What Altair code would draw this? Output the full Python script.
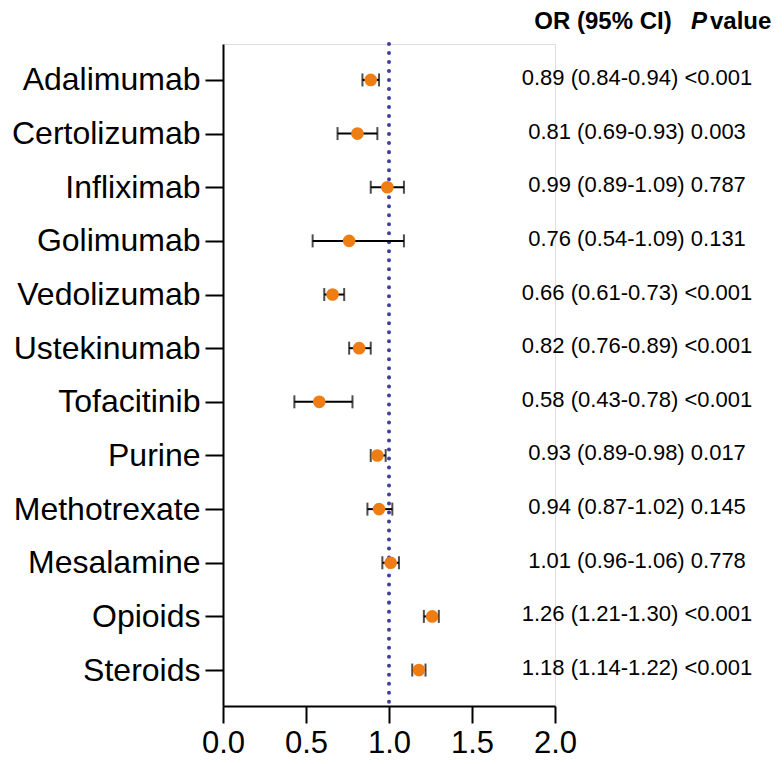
import altair as alt
import pandas as pd

names = ["Adalimumab", "Certolizumab", "Infliximab", "Golimumab", "Vedolizumab",
         "Ustekinumab", "Tofacitinib", "Purine", "Methotrexate", "Mesalamine",
         "Opioids", "Steroids"]
odds = [0.89, 0.81, 0.99, 0.76, 0.66, 0.82, 0.58, 0.93, 0.94, 1.01, 1.26, 1.18]
lower = [0.84, 0.69, 0.89, 0.54, 0.61, 0.76, 0.43, 0.89, 0.87, 0.96, 1.21, 1.14]
upper = [0.94, 0.93, 1.09, 1.09, 0.73, 0.89, 0.78, 0.98, 1.02, 1.06, 1.30, 1.22]
pvals = ["<0.001", "0.003", "0.787", "0.131", "<0.001", "<0.001", "<0.001",
         "0.017", "0.145", "0.778", "<0.001", "<0.001"]
x_ticks = [0.0, 0.5, 1.0, 1.5, 2.0]

df = pd.DataFrame({"name": names, "or": odds, "lo": lower, "hi": upper, "p": pvals})
df["label"] = [f"{o:.2f} ({l:.2f}-{h:.2f}) {p}" for o, l, h, p in zip(odds, lower, upper, pvals)]

FONT = "Liberation Sans, Arial, Helvetica, sans-serif"
ORANGE = "#EE7D14"
DOT = "#3F3F9C"

yscale = alt.Scale(type="point", domain=names, padding=0.67)
xscale = alt.Scale(domain=[0, 2], nice=False, zero=False)

y_enc = alt.Y("name:N", scale=yscale, sort=names,
              axis=alt.Axis(title=None, labelFontSize=32, labelFont=FONT, labelColor="black",
                            labelPadding=5, tickSize=18, tickWidth=2, tickColor="black",
                            domainWidth=2, domainColor="black", grid=False, labelLimit=400))
x_axis = alt.Axis(title=None, values=x_ticks, format=".1f", labelFontSize=31, labelFont=FONT,
                  labelColor="black", labelPadding=5, tickSize=17, tickWidth=2,
                  tickColor="black", domainWidth=2, domainColor="black", grid=False,
                  labelFlush=False)

base = alt.Chart(df)

ref = alt.Chart(pd.DataFrame({"v": [1.0]})).mark_rule(
    color=DOT, strokeWidth=4, strokeDash=[0.01, 9], strokeCap="round"
).encode(x=alt.X("v:Q", scale=xscale, axis=x_axis))

rule = base.mark_rule(color="black", strokeWidth=2).encode(
    x=alt.X("lo:Q", scale=xscale, axis=x_axis), x2="hi:Q", y=y_enc)
tick_lo = base.mark_tick(color="black", thickness=2, size=13, orient="vertical").encode(
    x=alt.X("lo:Q", scale=xscale), y=alt.Y("name:N", scale=yscale, sort=names))
tick_hi = base.mark_tick(color="black", thickness=2, size=13, orient="vertical").encode(
    x=alt.X("hi:Q", scale=xscale), y=alt.Y("name:N", scale=yscale, sort=names))
pts = base.mark_point(filled=True, color=ORANGE, opacity=1, size=160, shape="circle").encode(
    x=alt.X("or:Q", scale=xscale), y=alt.Y("name:N", scale=yscale, sort=names))

txt = base.mark_text(align="center", baseline="middle", fontSize=22, font=FONT,
                     color="black", dy=-2).encode(
    x=alt.value(414), y=alt.Y("name:N", scale=yscale, sort=names), text="label:N")

hdr1 = alt.Chart(pd.DataFrame({"t": ["OR (95% CI)"]})).mark_text(
    align="center", baseline="middle", fontSize=24, font=FONT, fontWeight="bold", color="black"
).encode(x=alt.value(380), y=alt.value(-22), text="t:N")
hdr2 = alt.Chart(pd.DataFrame({"t": ["P"]})).mark_text(
    align="left", baseline="middle", fontSize=24, font=FONT, fontWeight="bold",
    fontStyle="italic", color="black"
).encode(x=alt.value(468), y=alt.value(-22), text="t:N")
hdr3 = alt.Chart(pd.DataFrame({"t": ["value"]})).mark_text(
    align="left", baseline="middle", fontSize=24, font=FONT, fontWeight="bold", color="black"
).encode(x=alt.value(487), y=alt.value(-22), text="t:N")

chart = alt.layer(ref, rule, tick_lo, tick_hi, pts, txt, hdr1, hdr2, hdr3).properties(
    width=332, height=662,
    autosize=alt.AutoSizeParams(type="none"),
    padding={"left": 215, "top": 36, "right": 221, "bottom": 54},
).configure_view(stroke=None).configure(background="white")

chart.save("out.html", embed_options={"renderer": "svg", "actions": False})
